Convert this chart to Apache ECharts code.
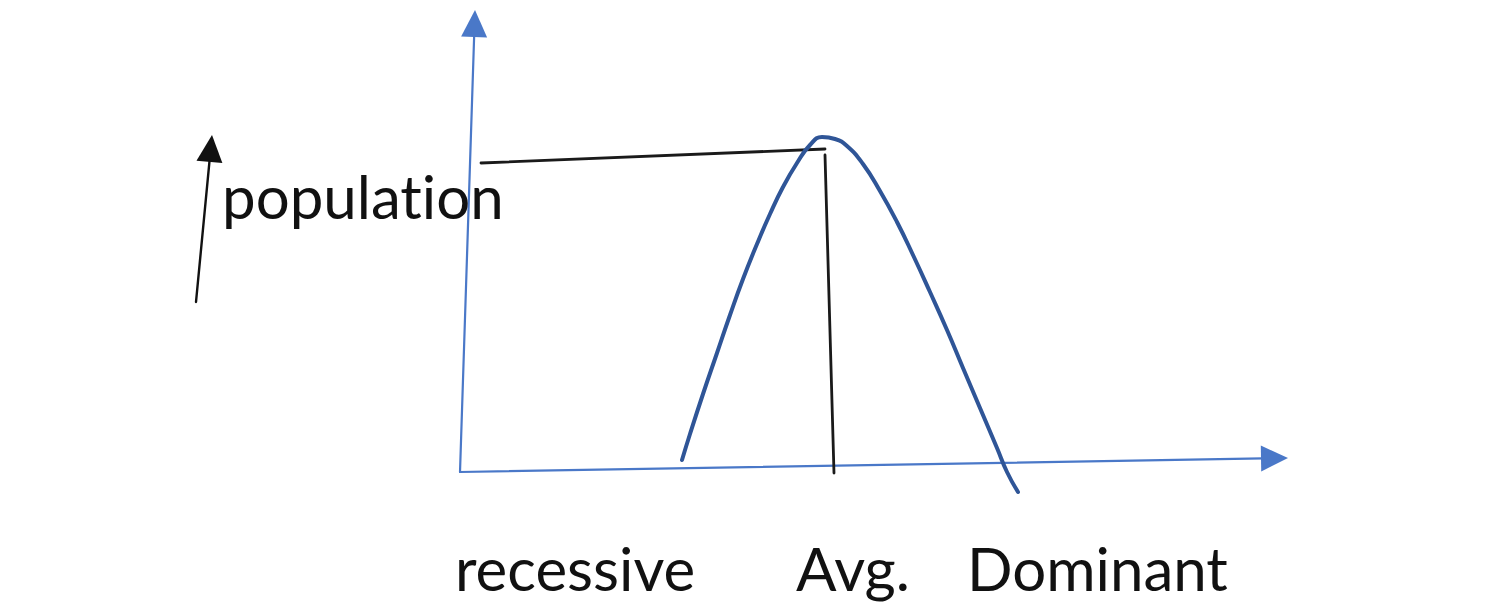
<!DOCTYPE html>
<html>
<head>
<meta charset="utf-8">
<script src="https://cdn.jsdelivr.net/npm/echarts@6/dist/echarts.min.js"></script>
<style>
html,body{margin:0;padding:0;background:#fff;}
#chart{width:1500px;height:614px;}
#chart text{font-variant-ligatures:none !important;font-feature-settings:"liga" 0,"clig" 0 !important;}
</style>
</head>
<body>
<div id="chart"></div>
<script>
// Diagram (units = drawing coordinates, y downward)
const curveX = [682, 690, 703, 717, 730, 743, 757, 770, 783, 797, 810, 822, 835, 847, 863, 880, 897, 913, 930, 947, 963, 980, 997, 1007, 1018];
const curveY = [460, 434, 394, 353, 315, 279, 244, 214, 187, 163, 145, 137, 139, 146, 164, 191, 222, 255, 292, 330, 368, 408, 448, 472, 492];

// axes arrows: [tailX, tailY, tipX, tipY]
const axisArrows = [[460, 472, 475, 10], [460, 472, 1288, 458]];
const populationArrow = [[196, 302, 212, 135]];
// guide lines to the peak: [x1, y1, x2, y2]
const guideLines = [[481, 163, 825, 149], [825, 155, 834, 473]];

const labelTexts = ['population', 'recessive', 'Avg.', 'Dominant'];
const labelX = [222, 455, 796, 967];
const labelY = [196, 568, 568, 568];

const chart = echarts.init(document.getElementById('chart'), null, { renderer: 'svg' });

function arrowItem(color, width, headLen, headHalf) {
  return function (params, api) {
    const p0 = api.coord([api.value(0), api.value(1)]);
    const p1 = api.coord([api.value(2), api.value(3)]);
    const dx = p1[0] - p0[0], dy = p1[1] - p0[1];
    const len = Math.sqrt(dx * dx + dy * dy);
    const ux = dx / len, uy = dy / len;
    const bx = p1[0] - ux * headLen, by = p1[1] - uy * headLen;
    const nx = -uy, ny = ux;
    return {
      type: 'group',
      children: [
        { type: 'line', shape: { x1: p0[0], y1: p0[1], x2: bx + ux * 2, y2: by + uy * 2 },
          style: { stroke: color, lineWidth: width, lineCap: 'round' } },
        { type: 'polygon', shape: { points: [[p1[0], p1[1]], [bx + nx * headHalf, by + ny * headHalf], [bx - nx * headHalf, by - ny * headHalf]] },
          style: { fill: color } }
      ]
    };
  };
}

const option = {
  backgroundColor: '#ffffff',
  animation: false,
  grid: { left: 0, right: 0, top: 0, bottom: 0 },
  xAxis: { type: 'value', min: 0, max: 1500, show: false },
  yAxis: { type: 'value', min: 0, max: 614, inverse: true, show: false },
  series: [
    {
      type: 'custom',
      data: axisArrows,
      renderItem: arrowItem('#4a78c8', 2.2, 27, 13),
      silent: true
    },
    {
      type: 'custom',
      data: populationArrow,
      renderItem: arrowItem('#111111', 2.4, 27, 13),
      silent: true
    },
    {
      type: 'custom',
      data: guideLines,
      renderItem: function (params, api) {
        const p0 = api.coord([api.value(0), api.value(1)]);
        const p1 = api.coord([api.value(2), api.value(3)]);
        return { type: 'line', shape: { x1: p0[0], y1: p0[1], x2: p1[0], y2: p1[1] },
          style: { stroke: '#1a1a1a', lineWidth: 2.8, lineCap: 'round' } };
      },
      silent: true
    },
    {
      type: 'line',
      data: curveX.map((x, i) => [x, curveY[i]]),
      smooth: 0.5,
      symbol: 'none',
      lineStyle: { color: '#2f5597', width: 4, cap: 'round' },
      silent: true
    },
    {
      type: 'custom',
      data: labelTexts.map((t, i) => [labelX[i], labelY[i], t]),
      renderItem: function (params, api) {
        const p = api.coord([api.value(0), api.value(1)]);
        return { type: 'text', x: p[0], y: p[1],
          style: { text: labelTexts[params.dataIndex], fill: '#111111',
            font: '60px Lato', textAlign: 'left', textVerticalAlign: 'middle', verticalAlign: 'middle' } };
      },
      silent: true
    }
  ]
};
chart.setOption(option);
</script>
</body>
</html>
